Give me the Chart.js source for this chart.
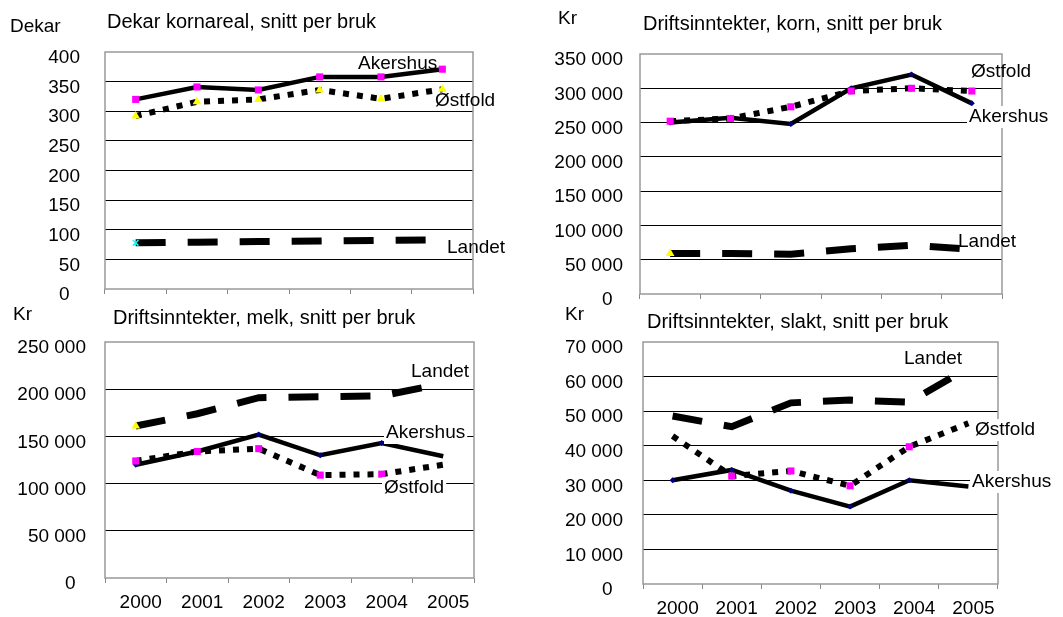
<!DOCTYPE html>
<html>
<head>
<meta charset="utf-8">
<script src="https://cdn.jsdelivr.net/npm/chart.js@4.4.0/dist/chart.umd.min.js"></script>
<style>
    html, body { margin: 0; padding: 0; background: #fff; }
    #flate { position: relative; width: 1063px; height: 617px; }
    canvas { position: absolute; }
</style>
</head>
<body>
<div id="flate">
    <canvas id="melk" width="531" height="317" style="left:0;top:300px"></canvas>
    <canvas id="slakt" width="532" height="317" style="left:531px;top:300px"></canvas>
    <canvas id="korn-areal" width="531" height="312" style="left:0;top:0"></canvas>
    <canvas id="korn-inntekt" width="532" height="312" style="left:531px;top:0"></canvas>
</div>
<script>
// årstall (kategorier)
const aar = ['2000', '2001', '2002', '2003', '2004', '2005'];

// Dekar kornareal, snitt per bruk
const arealAkershus = [320, 341, 336, 358, 358, 371];
const arealOstfold = [292, 316, 320, 336, 321, 337];
const arealLandet = [78, 79, 80, 81, 82, 83];

// Driftsinntekter, korn
const kornAkershus = [250000, 257000, 248000, 300000, 320000, 278000];
const kornOstfold = [252000, 256000, 273000, 296000, 300000, 296000];
const kornLandet = [59000, 59000, 58000, 66000, 71000, 65000];

// Driftsinntekter, melk
const melkAkershus = [120000, 134000, 152000, 130000, 143000, 129000];
const melkOstfold = [124000, 134000, 137000, 109000, 110000, 120000];
const melkLandet = [161000, 174000, 191000, 192000, 193000, 206000];

// Driftsinntekter, slakt
const slaktAkershus = [30000, 33000, 27000, 22400, 30000, 28200];
const slaktOstfold = [42800, 31200, 32700, 28400, 39700, 46500];
const slaktLandet = [48600, 45500, 52400, 53200, 52600, 62500];

// y-akser
const yMaks = [400, 350000, 250000, 70000];
const ySteg = [50, 50000, 50000, 10000];

Chart.defaults.font.family = '"Liberation Sans", Arial, sans-serif';
Chart.defaults.font.size = 19;
Chart.defaults.color = '#000';

const MAGENTA = '#ff00ff';
const GUL = '#ffff00';
const MARINE = '#000080';
const CYAN = '#00ffff';

function tusen(v) {
    return String(v).replace(/\B(?=(\d{3})+(?!\d))/g, ' ');
}

const ramme = {
    id: 'ramme',
    beforeDatasetsDraw(chart) {
        const { ctx, chartArea: a } = chart;
        ctx.save();
        ctx.strokeStyle = '#999';
        ctx.lineWidth = 1.5;
        ctx.strokeRect(a.left, a.top, a.right - a.left, a.bottom - a.top);
        ctx.restore();
    },
    afterDraw(chart, args, opts) {
        const ctx = chart.ctx;
        ctx.save();
        ctx.textBaseline = 'middle';
        opts.tekster.forEach((t) => {
            ctx.font = (t.str || 19) + 'px "Liberation Sans", Arial, sans-serif';
            if (t.fundo) {
                const w = ctx.measureText(t.tekst).width;
                ctx.fillStyle = '#fff';
                ctx.fillRect(t.x - 2, t.y - 11, w + 4, 22);
            }
            ctx.fillStyle = '#000';
            ctx.fillText(t.tekst, t.x, t.y);
        });
        ctx.restore();
    }
};

function serie(navn, data, type, markor) {
    const linjer = {
        solid: { borderWidth: 4.5, borderDash: [] },
        prikk: { borderWidth: 6, borderDash: [6, 8] },
        strek: { borderWidth: 7, borderDash: [30, 22] },
    };
    return {
        label: navn,
        data: data,
        borderColor: '#000',
        borderWidth: linjer[type].borderWidth,
        borderDash: linjer[type].borderDash,
        tension: 0,
        pointStyle: markor.stil,
        pointRadius: markor.r,
        pointBackgroundColor: markor.farge,
        pointBorderColor: markor.farge,
        pointBorderWidth: markor.stil === 'crossRot' ? 1.5 : 0,
    };
}

function lagGraf(id, oppsett) {
    const el = document.querySelector('#' + id);
    const maks = oppsett.maks;
    return new Chart(el, {
        type: 'line',
        data: { labels: aar, datasets: oppsett.serier },
        options: {
            responsive: false,
            animation: false,
            layout: { padding: { left: 0, right: oppsett.hoyre, top: oppsett.topp, bottom: 0 } },
            plugins: {
                legend: { display: false },
                tooltip: { enabled: false },
                ramme: { tekster: oppsett.tekster },
            },
            scales: {
                x: {
                    offset: true,
                    grid: { offset: true, drawOnChartArea: false, drawTicks: true, tickLength: 5, color: '#888' },
                    border: { display: false },
                    ticks: { display: oppsett.visAar, padding: 8, labelOffset: 5, maxRotation: 0 },
                    afterFit: (s) => {
                        s.height = oppsett.xHoyde;
                        s.paddingLeft = 0;
                        s.paddingRight = 0;
                    },
                },
                y: {
                    min: 0,
                    max: maks,
                    grid: {
                        drawTicks: false,
                        color: (c) => (c.tick.value === 0 || c.tick.value === maks) ? 'rgba(0,0,0,0)' : '#000',
                        lineWidth: 1,
                    },
                    border: { display: false },
                    ticks: {
                        stepSize: oppsett.steg,
                        padding: oppsett.yPad,
                        labelOffset: 6,
                        callback: (v) => v === 0 ? '0  ' : tusen(v),
                    },
                    afterFit: (s) => {
                        s.width = oppsett.yBredde;
                        s.paddingTop = 0;
                        s.paddingBottom = 0;
                    },
                },
            },
        },
        plugins: [ramme],
    });
}

const alle = (r) => [r, r, r, r, r, r];
const forste = (r) => [r, 0, 0, 0, 0, 0];

lagGraf('korn-areal', {
    maks: yMaks[0], steg: ySteg[0],
    hoyre: 58, topp: 52, xHoyde: 23, yBredde: 105, yPad: 25, visAar: false,
    serier: [
        serie('Akershus', arealAkershus, 'solid', { stil: 'rect', r: alle(5), farge: MAGENTA }),
        serie('Østfold', arealOstfold, 'prikk', { stil: 'triangle', r: alle(5), farge: GUL }),
        serie('Landet', arealLandet, 'strek', { stil: 'crossRot', r: forste(4), farge: CYAN }),
    ],
    tekster: [
        { tekst: 'Dekar', x: 10, y: 27 },
        { tekst: 'Dekar kornareal, snitt per bruk', x: 107, y: 22, str: 20 },
        { tekst: 'Akershus', x: 358, y: 64 },
        { tekst: 'Østfold', x: 435, y: 101 },
        { tekst: 'Landet', x: 447, y: 248 },
    ],
});

lagGraf('korn-inntekt', {
    maks: yMaks[1], steg: ySteg[1],
    hoyre: 61, topp: 54, xHoyde: 18, yBredde: 109, yPad: 17, visAar: false,
    serier: [
        serie('Østfold', kornOstfold, 'prikk', { stil: 'rect', r: alle(5), farge: MAGENTA }),
        serie('Akershus', kornAkershus, 'solid', { stil: 'rectRot', r: alle(3), farge: MARINE }),
        serie('Landet', kornLandet, 'strek', { stil: 'triangle', r: forste(5), farge: GUL }),
    ],
    tekster: [
        { tekst: 'Kr', x: 27, y: 19 },
        { tekst: 'Driftsinntekter, korn, snitt per bruk', x: 112, y: 24, str: 20 },
        { tekst: 'Østfold', x: 440, y: 72 },
        { tekst: 'Akershus', x: 438, y: 117, fundo: true },
        { tekst: 'Landet', x: 427, y: 242 },
    ],
});

lagGraf('melk', {
    maks: yMaks[2], steg: ySteg[2],
    hoyre: 57, topp: 42, xHoyde: 39, yBredde: 105, yPad: 19, visAar: true,
    serier: [
        serie('Østfold', melkOstfold, 'prikk', { stil: 'rect', r: [5, 5, 5, 5, 5, 0], farge: MAGENTA }),
        serie('Akershus', melkAkershus, 'solid', { stil: 'rectRot', r: [3, 3, 3, 3, 3, 0], farge: MARINE }),
        serie('Landet', melkLandet, 'strek', { stil: 'triangle', r: forste(5), farge: GUL }),
    ],
    tekster: [
        { tekst: 'Kr', x: 13, y: 15 },
        { tekst: 'Driftsinntekter, melk, snitt per bruk', x: 113, y: 18, str: 20 },
        { tekst: 'Landet', x: 411, y: 72 },
        { tekst: 'Akershus', x: 386, y: 133, fundo: true },
        { tekst: 'Østfold', x: 384, y: 188, fundo: true },
    ],
});

lagGraf('slakt', {
    maks: yMaks[3], steg: ySteg[3],
    hoyre: 65, topp: 42, xHoyde: 33, yBredde: 112, yPad: 20, visAar: true,
    serier: [
        serie('Østfold', slaktOstfold, 'prikk', { stil: 'rect', r: [0, 5, 5, 5, 5, 0], farge: MAGENTA }),
        serie('Akershus', slaktAkershus, 'solid', { stil: 'rectRot', r: [3, 3, 3, 3, 3, 0], farge: MARINE }),
        serie('Landet', slaktLandet, 'strek', { stil: 'triangle', r: alle(0), farge: GUL }),
    ],
    tekster: [
        { tekst: 'Kr', x: 34, y: 15 },
        { tekst: 'Driftsinntekter, slakt, snitt per bruk', x: 116, y: 22, str: 20 },
        { tekst: 'Landet', x: 373, y: 59 },
        { tekst: 'Østfold', x: 444, y: 130, fundo: true },
        { tekst: 'Akershus', x: 441, y: 182, fundo: true },
    ],
});
</script>
</body>
</html>
